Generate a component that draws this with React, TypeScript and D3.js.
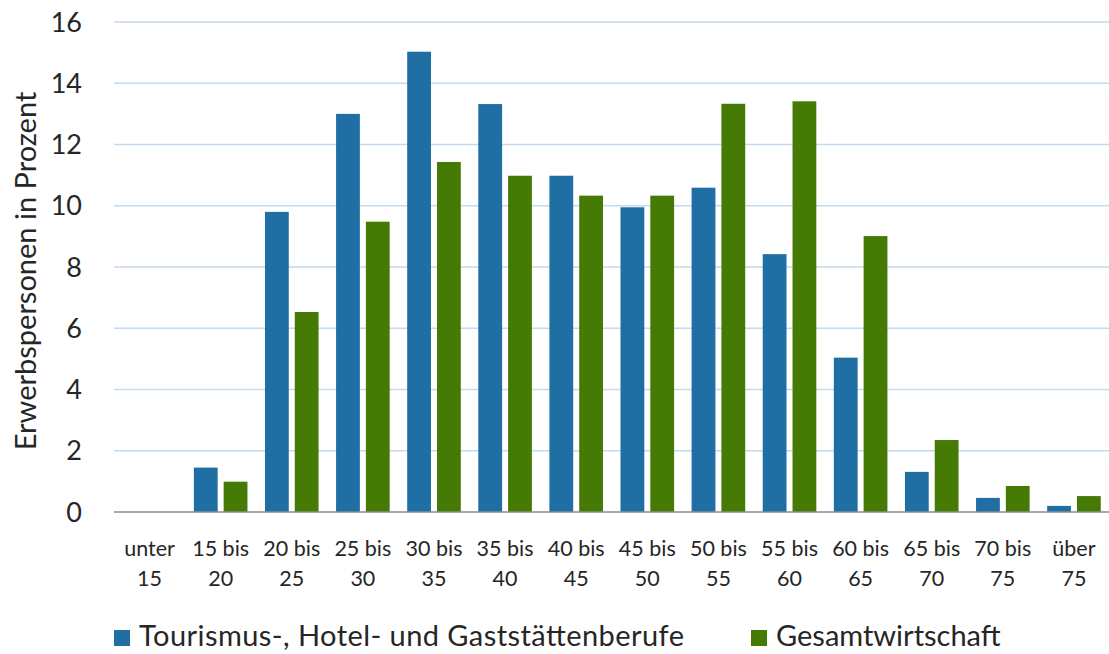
import React from "react";
import * as d3 from "d3";

const categories: string[][] = [
  ["unter", "15"], ["15 bis", "20"], ["20 bis", "25"], ["25 bis", "30"], ["30 bis", "35"],
  ["35 bis", "40"], ["40 bis", "45"], ["45 bis", "50"], ["50 bis", "55"], ["55 bis", "60"],
  ["60 bis", "65"], ["65 bis", "70"], ["70 bis", "75"], ["über", "75"],
];
const tourismus: number[] = [0, 1.45, 9.8, 13.0, 15.03, 13.32, 10.98, 9.95, 10.59, 8.42, 5.04, 1.31, 0.46, 0.2];
const gesamt: number[] = [0, 0.99, 6.53, 9.48, 11.43, 10.98, 10.33, 10.33, 13.33, 13.41, 9.01, 2.35, 0.85, 0.52];
const yTicks: number[] = [0, 2, 4, 6, 8, 10, 12, 14, 16];
const seriesNames = ["Tourismus-, Hotel- und Gaststättenberufe", "Gesamtwirtschaft"];
const colors = ["#1f6fa5", "#457a05"];

const W = 1109, H = 654;
const FONT = "Lato, 'Open Sans', sans-serif";

export default function App() {
  const keys = categories.map((c) => c.join(" "));
  const x = d3.scaleBand<string>().domain(keys).range([114, 1109.5]).paddingInner(0).paddingOuter(0);
  const y = d3.scaleLinear().domain([0, 16]).range([512, 22]);
  const step = x.bandwidth();
  const barW = 23.8;
  const innerGap = 6;
  const series = [tourismus, gesamt];

  return (
    <svg width={W} height={H} style={{ position: "absolute", left: 0, top: 0, background: "#fff" }}>
      <rect x={0} y={0} width={W} height={H} fill="#fff" />
      {yTicks.filter((t) => t > 0).map((t) => (
        <line key={t} x1={114} x2={1109} y1={y(t)} y2={y(t)} stroke="#c3d9ed" strokeWidth={1.4} />
      ))}
      {yTicks.map((t) => (
        <text key={t} x={82} y={y(t)} dy="0.36em" textAnchor="end" fontFamily={FONT} fontSize={27} fill="#262626">
          {t}
        </text>
      ))}
      {series.map((vals, si) =>
        vals.map((v, i) => {
          const c = (x(keys[i]) as number) + step / 2;
          const bx = si === 0 ? c - innerGap / 2 - barW : c + innerGap / 2;
          return (
            <rect key={si + "-" + i} x={bx} y={y(v)} width={barW} height={y(0) - y(v)} fill={colors[si]} />
          );
        })
      )}
      <line x1={114} x2={1109} y1={y(0)} y2={y(0)} stroke="#8c8c8c" strokeWidth={1.4} />
      {categories.map((c, i) => {
        const cx = (x(keys[i]) as number) + step / 2;
        return (
          <text key={i} textAnchor="middle" fontFamily={FONT} fontSize={21.5} fill="#262626">
            <tspan x={cx} y={556}>{c[0]}</tspan>
            <tspan x={cx} y={586}>{c[1]}</tspan>
          </text>
        );
      })}
      <text
        transform="translate(36,271) rotate(-90)"
        textAnchor="middle"
        fontFamily={FONT}
        fontSize={29}
        fill="#262626"
      >
        Erwerbspersonen in Prozent
      </text>
      <rect x={114} y={630} width={16} height={16} fill={colors[0]} />
      <text x={139} y={646} fontFamily={FONT} fontSize={29} fill="#262626" textLength={545} lengthAdjust="spacing">{seriesNames[0]}</text>
      <rect x={751} y={630} width={16} height={16} fill={colors[1]} />
      <text x={776} y={646} fontFamily={FONT} fontSize={29} fill="#262626">{seriesNames[1]}</text>
    </svg>
  );
}
